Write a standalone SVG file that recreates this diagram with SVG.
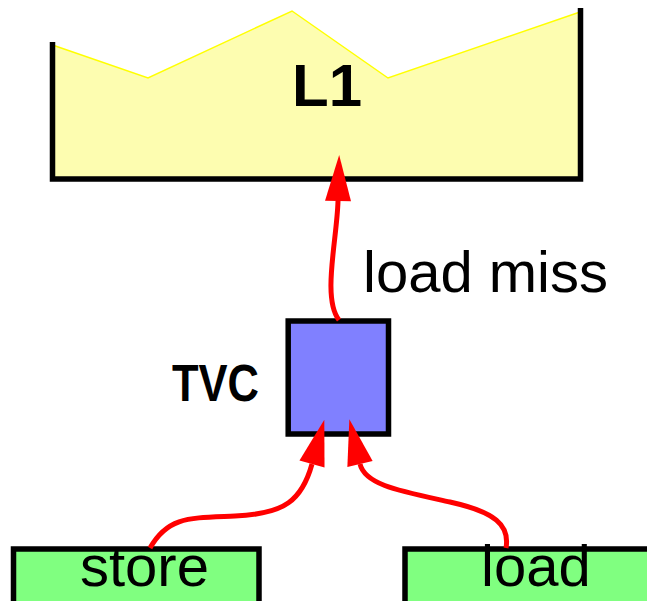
<svg xmlns="http://www.w3.org/2000/svg" width="647" height="601" viewBox="0 0 647 601">
  <style>
    .lbl { font-family: "Liberation Sans", Arial, sans-serif; fill: #000; }
    .bold { font-weight: bold; }
    .edge { fill: none; stroke: #FF0000; stroke-width: 5; }
    .box { stroke: #000; stroke-width: 5.5; }
  </style>
  <defs>
    <marker id="arrow" markerUnits="userSpaceOnUse" markerWidth="46" markerHeight="26" refX="0" refY="13" orient="auto" overflow="visible">
      <path d="M0,0 L46,13 L0,26 z" fill="#FF0000"/>
    </marker>
  </defs>
  <rect width="647" height="601" fill="#FFFFFF"/>

  <g id="L1">
    <polygon points="52.5,45 148,78 292,11 388,78 580,12 580,179 52.5,179" fill="#FDFDB0" stroke="none"/>
    <polyline points="52.5,45 148,78 292,11 388,78 580,12" fill="none" stroke="#FFFF00" stroke-width="1.5"/>
    <polyline points="52.5,42 52.5,179 580.5,179 580.5,8" fill="none" stroke="#000" stroke-width="5.5"/>
    <text class="lbl bold" x="292" y="106" font-size="60">L1</text>
  </g>

  <g id="TVC">
    <rect class="box" x="288.2" y="321" width="100.3" height="113" fill="#8080FF"/>
    <text class="lbl bold" x="172" y="400.7" font-size="52" textLength="87" lengthAdjust="spacingAndGlyphs">TVC</text>
  </g>

  <g id="store">
    <rect class="box" x="13.5" y="549" width="245.5" height="60" fill="#80FF80"/>
    <text class="lbl" x="80" y="586" font-size="58">store</text>
  </g>

  <g id="load">
    <rect class="box" x="405" y="549" width="260" height="60" fill="#80FF80"/>
    <text class="lbl" x="481" y="586" font-size="58">load</text>
  </g>

  <g id="connectors">
    <path class="edge" d="M339,320 C322,298 337,240 338,201" marker-end="url(#arrow)"/>
    <path class="edge" d="M150,548 C168,516 190,518 235,516 C285,514 302,500 312,464" marker-end="url(#arrow)"/>
    <path class="edge" d="M506,548 C510,525 495,512 450,502 C400,491 365,485 360,464" marker-end="url(#arrow)"/>
    <text class="lbl" x="363" y="291.7" font-size="58">load miss</text>
  </g>
</svg>
